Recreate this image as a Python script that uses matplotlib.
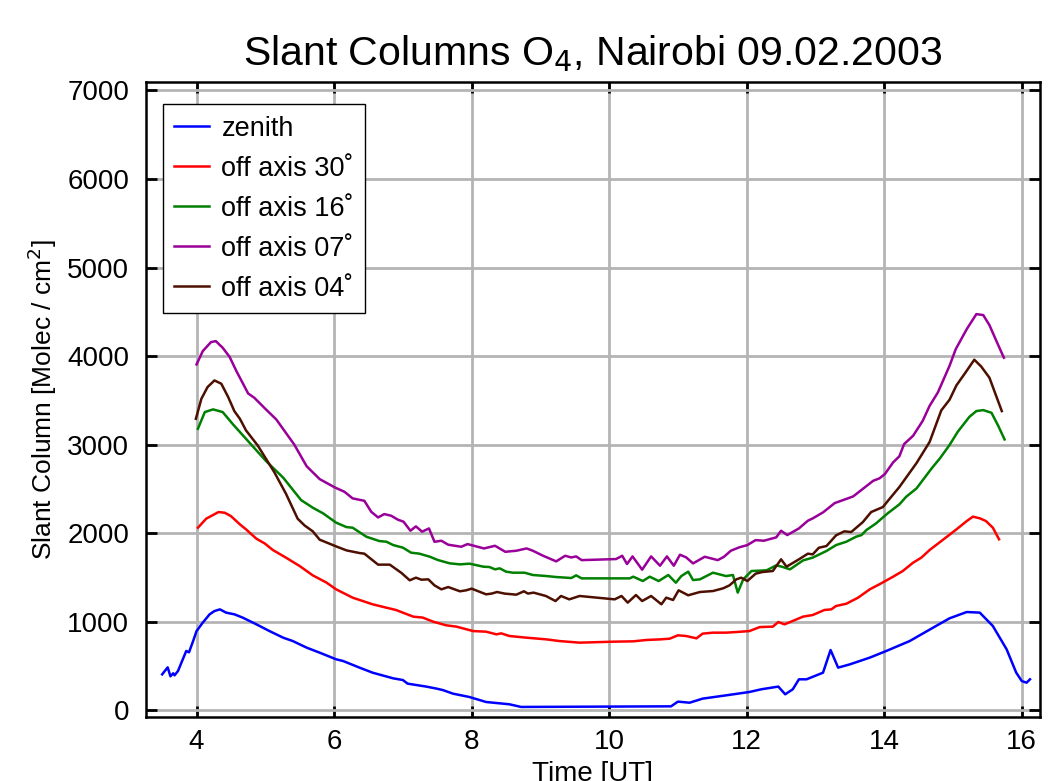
import matplotlib
matplotlib.use("Agg")
import matplotlib.pyplot as plt

plt.rcParams['font.family'] = ['Liberation Sans', 'DejaVu Sans']

# ---- data ----
zen_t = [3.50, 3.58, 3.62, 3.66, 3.68, 3.73, 3.80, 3.85, 3.89, 3.95, 4.00, 4.09, 4.19, 4.26, 4.34,
         4.43, 4.55, 4.67, 4.87, 5.06, 5.26, 5.40, 5.60, 5.79, 6.03, 6.13, 6.37, 6.56, 6.86, 7.00,
         7.07, 7.34, 7.49, 7.58, 7.73, 7.97, 8.21, 8.55, 8.72, 10.90, 11.00, 11.17, 11.36, 11.70,
         12.04, 12.21, 12.46, 12.56, 12.67, 12.76, 12.87, 13.11, 13.22, 13.33, 13.50, 13.79, 14.03,
         14.37, 14.71, 14.95, 15.20, 15.39, 15.58, 15.78, 15.92, 16.00, 16.07, 16.12]
zen_v = [406, 485, 384, 418, 395, 444, 576, 670, 655, 782, 895, 990, 1084, 1121, 1140,
         1103, 1084, 1047, 971, 895, 820, 782, 708, 651, 576, 557, 482, 425, 361, 342,
         301, 268, 245, 229, 188, 150, 94, 68, 38, 45, 98, 86, 132, 169,
         207, 237, 268, 181, 237, 350, 350, 425, 681, 482, 519, 595, 670,
         782, 933, 1039, 1110, 1103, 952, 689, 425, 331, 312, 350]

r30_t = [4.02, 4.14, 4.32, 4.41, 4.50, 4.63, 4.72, 4.87, 4.99, 5.11, 5.30, 5.50, 5.69, 5.89, 6.03,
         6.27, 6.56, 6.76, 6.90, 7.15, 7.29, 7.44, 7.63, 7.78, 8.02, 8.21, 8.36, 8.43, 8.55, 8.80,
         9.09, 9.28, 9.57, 10.06, 10.35, 10.54, 10.74, 10.88, 11.00, 11.12, 11.27, 11.36, 11.51,
         11.70, 11.85, 12.04, 12.19, 12.38, 12.46, 12.55, 12.67, 12.82, 12.96, 13.13, 13.23, 13.30,
         13.45, 13.62, 13.79, 13.93, 14.13, 14.27, 14.42, 14.54, 14.66, 14.85, 15.05, 15.20, 15.29,
         15.39, 15.48, 15.58, 15.67]
r30_v = [2062, 2164, 2239, 2231, 2193, 2100, 2043, 1938, 1885, 1810, 1724, 1629, 1524, 1442, 1366,
         1272, 1197, 1159, 1133, 1058, 1047, 1001, 960, 945, 895, 888, 858, 869, 839, 820,
         801, 782, 764, 775, 779, 794, 801, 809, 847, 839, 813, 866, 877,
         877, 884, 895, 940, 945, 997, 971, 1009, 1058, 1076, 1133, 1140, 1178,
         1204, 1272, 1366, 1423, 1509, 1573, 1667, 1724, 1810, 1923, 2043, 2137, 2187,
         2168, 2137, 2062, 1931]

r16_t = [4.02, 4.12, 4.24, 4.38, 4.53, 4.77, 5.01, 5.26, 5.52, 5.69, 5.84, 6.03, 6.18, 6.27, 6.47,
         6.66, 6.76, 6.86, 7.00, 7.12, 7.24, 7.39, 7.51, 7.68, 7.83, 7.97, 8.17, 8.26, 8.34, 8.41,
         8.50, 8.60, 8.77, 8.89, 9.09, 9.23, 9.45, 9.52, 9.60, 10.30, 10.35, 10.49, 10.59, 10.72,
         10.86, 10.97, 11.05, 11.15, 11.22, 11.32, 11.51, 11.70, 11.80, 11.87, 11.95, 12.07, 12.29,
         12.43, 12.51, 12.63, 12.82, 12.96, 13.16, 13.30, 13.45, 13.59, 13.67, 13.74, 13.88, 14.05,
         14.22, 14.32, 14.47, 14.69, 14.81, 14.95, 15.07, 15.24, 15.34, 15.44, 15.56, 15.66, 15.75]
r16_v = [3180, 3368, 3398, 3368, 3229, 3022, 2815, 2627, 2374, 2288, 2224, 2119, 2069, 2062, 1960,
         1911, 1904, 1866, 1837, 1780, 1769, 1735, 1697, 1660, 1648, 1656, 1622, 1618, 1592, 1603,
         1566, 1554, 1554, 1528, 1516, 1505, 1494, 1524, 1490, 1490, 1509, 1460, 1509, 1460,
         1528, 1441, 1516, 1566, 1471, 1479, 1554, 1516, 1528, 1329, 1479, 1573, 1581,
         1637, 1622, 1592, 1693, 1724, 1799, 1866, 1904, 1960, 1979, 2035, 2110, 2224,
         2325, 2412, 2506, 2732, 2845, 2996, 3146, 3315, 3379, 3390, 3360, 3210, 3059]

r07_t = [4.00, 4.09, 4.21, 4.28, 4.38, 4.48, 4.58, 4.75, 4.84, 5.01, 5.16, 5.42, 5.60, 5.79, 6.01,
         6.15, 6.27, 6.44, 6.54, 6.64, 6.73, 6.83, 6.93, 7.01, 7.11, 7.19, 7.28, 7.38, 7.46, 7.56,
         7.66, 7.85, 7.94, 8.18, 8.34, 8.49, 8.65, 8.80, 8.89, 9.04, 9.23, 9.36, 9.45, 9.52, 9.60,
         10.10, 10.19, 10.26, 10.34, 10.48, 10.61, 10.74, 10.84, 10.94, 11.03, 11.12, 11.22, 11.39,
         11.58, 11.67, 11.77, 11.89, 12.01, 12.13, 12.25, 12.43, 12.50, 12.59, 12.76, 12.89, 12.96,
         13.11, 13.28, 13.47, 13.55, 13.84, 13.93, 14.01, 14.13, 14.22, 14.29, 14.42, 14.56, 14.66,
         14.78, 14.95, 15.04, 15.20, 15.34, 15.44, 15.53, 15.63, 15.74]
r07_v = [3906, 4056, 4158, 4169, 4094, 3992, 3830, 3578, 3529, 3397, 3284, 3002, 2757, 2611, 2517,
         2468, 2393, 2366, 2242, 2178, 2216, 2197, 2152, 2130, 2028, 2077, 2017, 2054, 1903, 1915,
         1870, 1847, 1877, 1828, 1858, 1790, 1802, 1828, 1802, 1745, 1682, 1745, 1726, 1738, 1696,
         1708, 1745, 1652, 1738, 1588, 1738, 1633, 1738, 1633, 1757, 1727, 1659, 1734,
         1696, 1734, 1802, 1840, 1866, 1922, 1915, 1953, 2028, 1979, 2054, 2141, 2167,
         2235, 2340, 2393, 2416, 2592, 2619, 2668, 2800, 2868, 3007, 3100, 3269, 3438,
         3589, 3890, 4078, 4304, 4474, 4463, 4350, 4173, 3982]

r04_t = [3.99, 4.07, 4.16, 4.26, 4.36, 4.46, 4.55, 4.63, 4.72, 4.89, 5.01, 5.13, 5.30, 5.47, 5.57,
         5.69, 5.79, 6.03, 6.18, 6.37, 6.44, 6.64, 6.81, 6.98, 7.10, 7.19, 7.27, 7.37, 7.46, 7.56,
         7.66, 7.83, 7.92, 8.00, 8.21, 8.29, 8.37, 8.48, 8.65, 8.76, 8.82, 8.90, 9.08, 9.22, 9.30,
         9.42, 9.57, 10.08, 10.18, 10.27, 10.39, 10.48, 10.61, 10.76, 10.83, 10.93, 11.01, 11.15,
         11.32, 11.51, 11.66, 11.75, 11.85, 11.92, 12.01, 12.13, 12.23, 12.38, 12.50, 12.58, 12.76,
         12.89, 12.96, 13.05, 13.16, 13.30, 13.42, 13.52, 13.69, 13.81, 13.98, 14.08, 14.22, 14.47,
         14.66, 14.83, 14.95, 15.05, 15.17, 15.31, 15.41, 15.53, 15.71]
r04_v = [3292, 3518, 3650, 3725, 3688, 3537, 3378, 3292, 3160, 2990, 2840, 2690, 2446, 2164, 2088,
         2021, 1927, 1851, 1806, 1776, 1769, 1645, 1645, 1551, 1468, 1498, 1475, 1479, 1411, 1366,
         1392, 1344, 1355, 1374, 1310, 1318, 1336, 1318, 1306, 1344, 1318, 1329, 1291, 1234, 1291,
         1253, 1291, 1253, 1291, 1216, 1302, 1234, 1291, 1197, 1272, 1246, 1355, 1299,
         1336, 1347, 1378, 1411, 1479, 1498, 1460, 1543, 1562, 1573, 1705, 1622, 1705,
         1769, 1761, 1836, 1855, 1976, 2021, 2013, 2126, 2239, 2295, 2390, 2521, 2792,
         3030, 3387, 3507, 3669, 3801, 3959, 3883, 3756, 3379]

series = [
    ("zenith", zen_t, zen_v, "#0000ff"),
    ("off axis 30˚", r30_t, r30_v, "#ff0000"),
    ("off axis 16˚", r16_t, r16_v, "#008000"),
    ("off axis 07˚", r07_t, r07_v, "#990099"),
    ("off axis 04˚", r04_t, r04_v, "#4d1000"),
]
xticks = [4, 6, 8, 10, 12, 14, 16]
yticks = [0, 1000, 2000, 3000, 4000, 5000, 6000, 7000]

fig = plt.figure(figsize=(10.48, 7.81), dpi=100)
ax = fig.add_axes([0.139, 0.082, 0.853, 0.813])

for label, t, v, c in series:
    ax.plot(t, v, color=c, lw=1.8, label=label)

ax.set_xlim(3.26, 16.26)
ax.set_ylim(-75, 7095)
ax.set_xticks(xticks)
ax.set_yticks(yticks)
ax.grid(True, color="#b4b4b4", lw=2.0)
ax.set_axisbelow(True)
for s in ax.spines.values():
    s.set_linewidth(1.8)
ax.tick_params(direction="in", length=8, width=2, top=True, right=True,
               labelsize=20, pad=9)
ax.tick_params(axis="y", pad=12)

ax.set_title("Slant Columns O$_4$, Nairobi 09.02.2003", fontsize=29.5, pad=12)
ax.set_ylabel("Slant Column [Molec / cm$^2$]", fontsize=19, labelpad=6)
ax.set_xlabel("Time [UT]", fontsize=20, labelpad=4)

leg = ax.legend(loc="upper left", bbox_to_anchor=(0.019, 0.965), fontsize=19.5,
                frameon=True, fancybox=False, edgecolor="black", framealpha=1,
                handlelength=1.3, handletextpad=0.45, labelspacing=0.52,
                borderpad=0.42, borderaxespad=0)
leg.get_frame().set_linewidth(1.0)

fig.savefig("out.png", dpi=100)
